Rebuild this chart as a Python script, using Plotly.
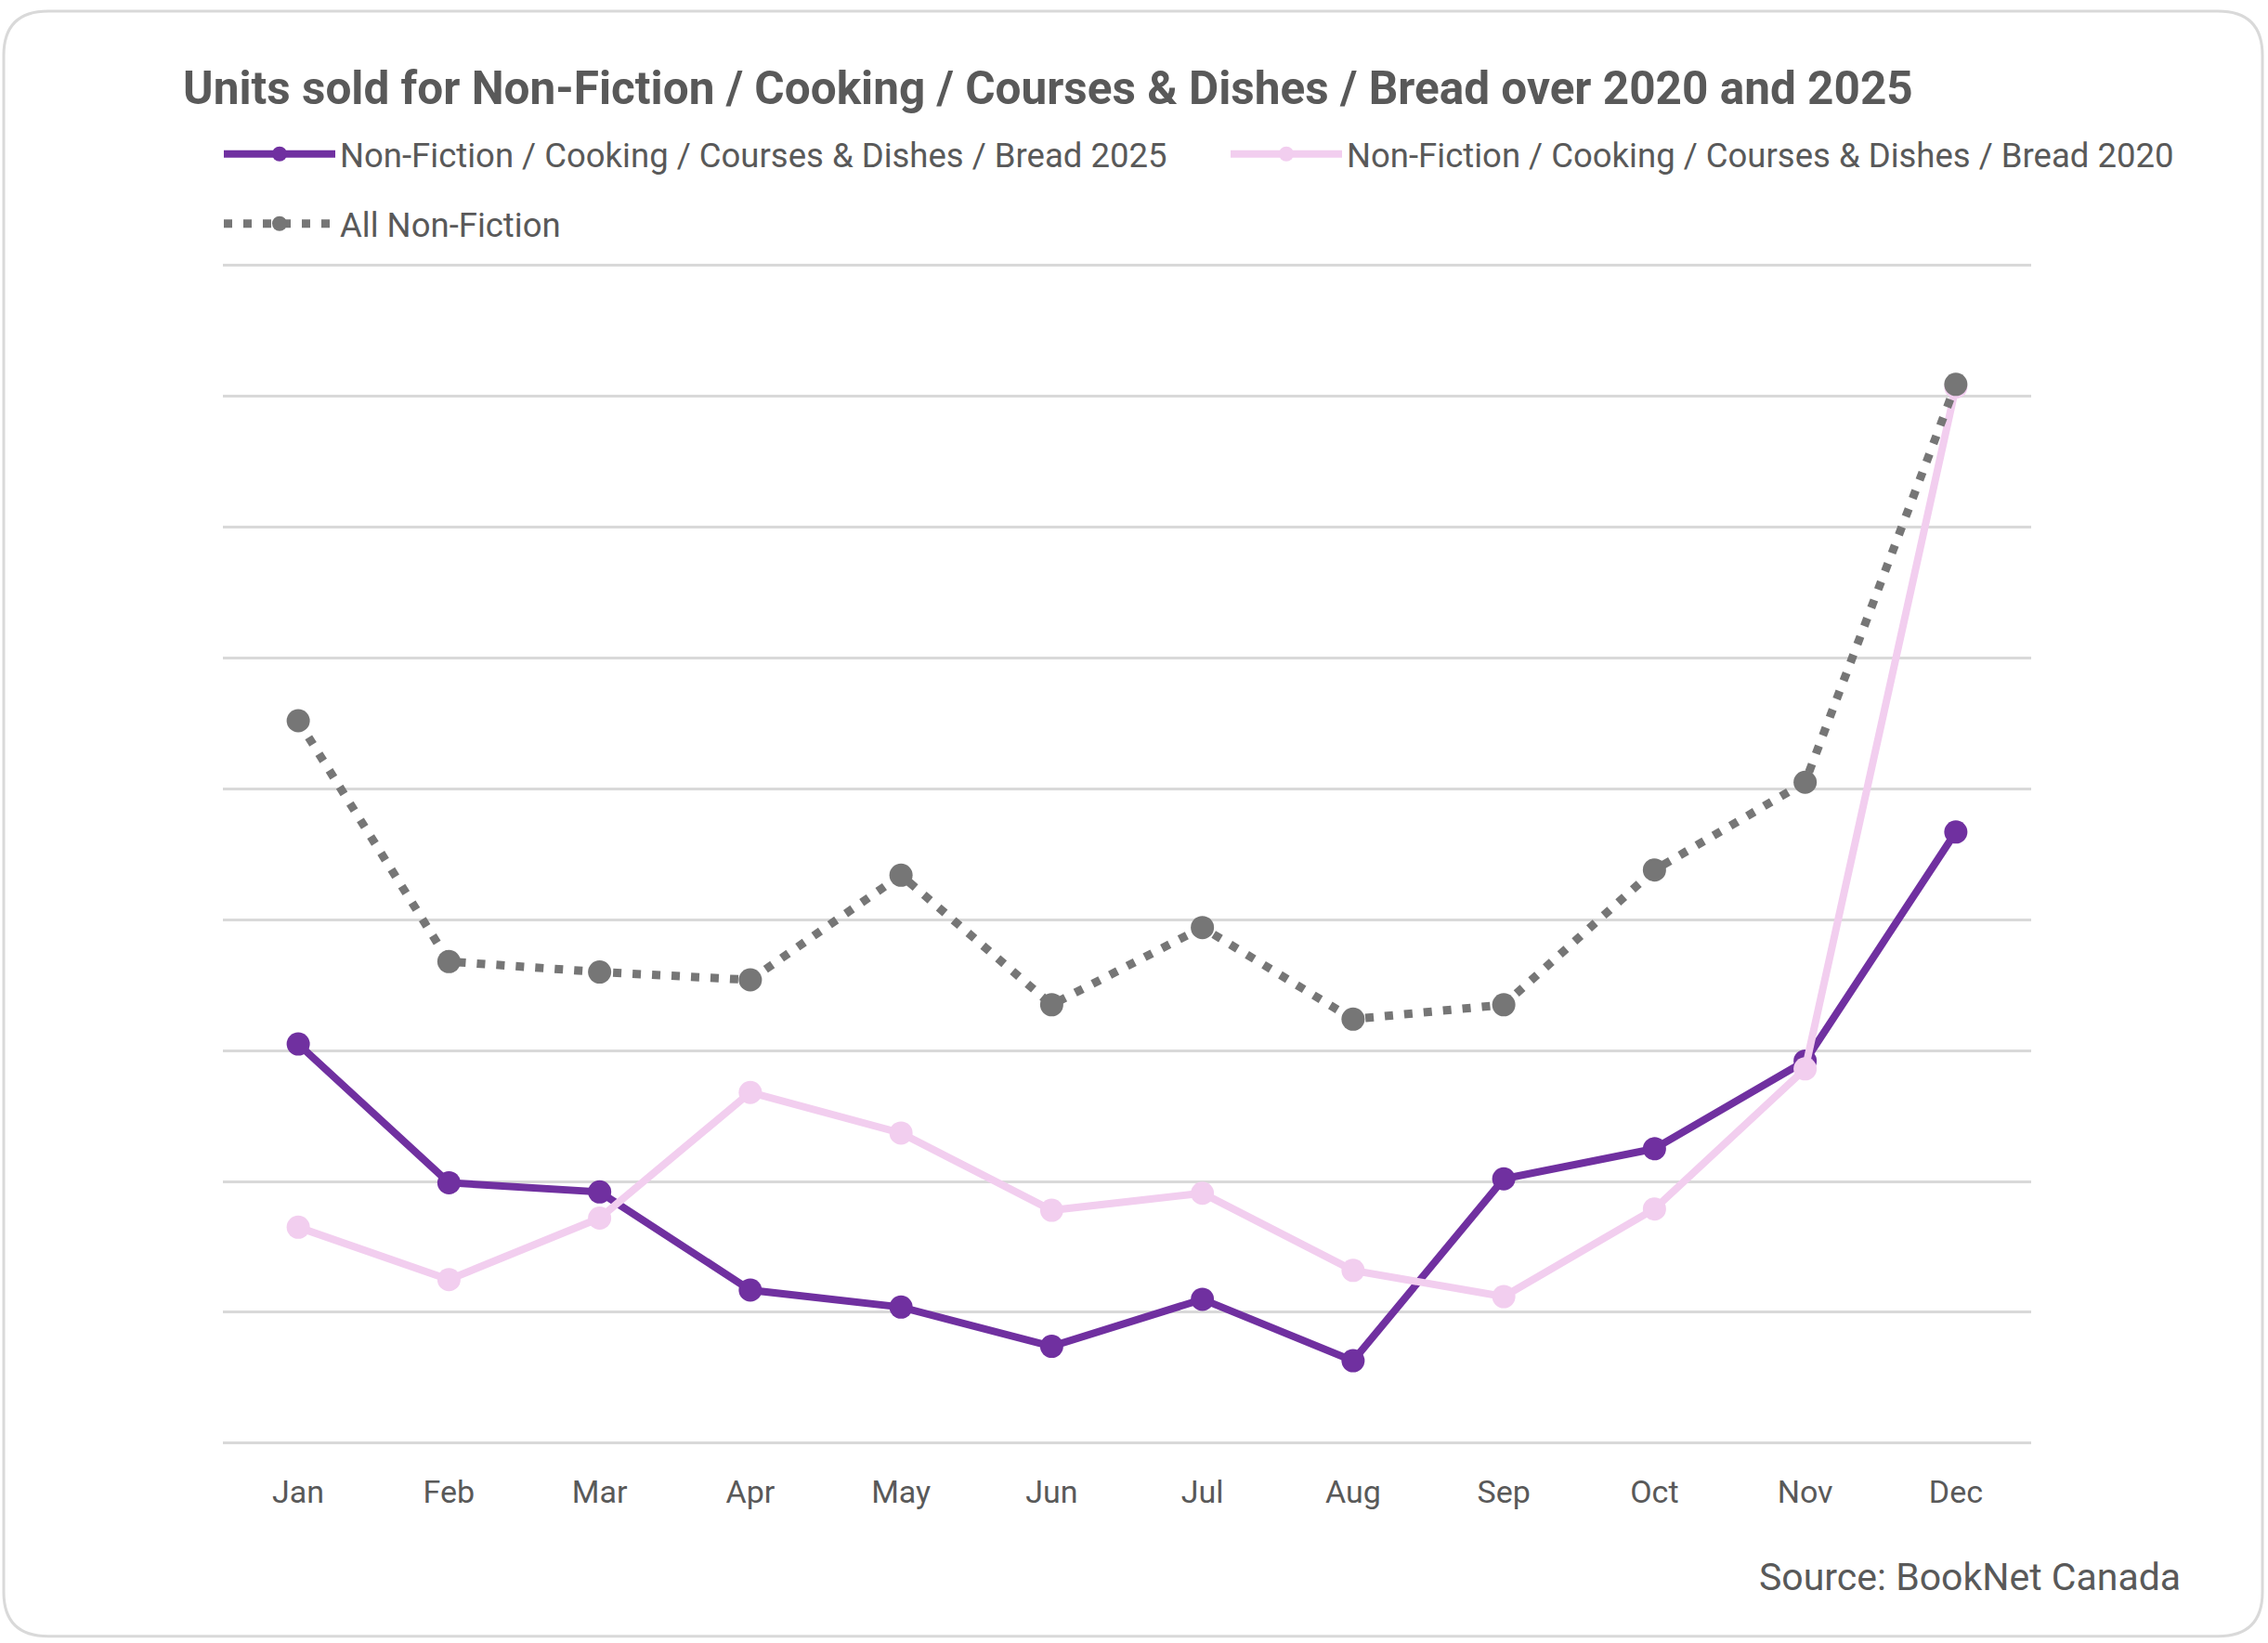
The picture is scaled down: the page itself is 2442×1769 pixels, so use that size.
import plotly.graph_objects as go

months = ["Jan", "Feb", "Mar", "Apr", "May", "Jun",
          "Jul", "Aug", "Sep", "Oct", "Nov", "Dec"]

bread_2025 = [3.05, 1.99, 1.92, 1.17, 1.04, 0.74, 1.10, 0.63, 2.02, 2.25, 2.92, 4.67]
bread_2020 = [1.65, 1.25, 1.72, 2.68, 2.37, 1.78, 1.91, 1.32, 1.12, 1.79, 2.86, 8.07]
all_nonfiction = [5.52, 3.68, 3.60, 3.54, 4.34, 3.35, 3.94, 3.24, 3.35, 4.38, 5.05, 8.09]

name_2025 = "Non-Fiction / Cooking / Courses & Dishes / Bread 2025"
name_2020 = "Non-Fiction / Cooking / Courses & Dishes / Bread 2020"
name_all = "All Non-Fiction"

W, H = 2442, 1769
L, R, T, B = 240, 255, 276, 213
PW, PH = W - L - R, H - T - B

FONT = "Roboto"
TXT = "#595959"


def px(x):
    return (x - L) / PW


def py(y):
    return (H - B - y) / PH


fig = go.Figure()

fig.add_trace(go.Scatter(
    x=months, y=bread_2025, name=name_2025, mode="lines+markers",
    line=dict(color="#7030A0", width=8),
    marker=dict(size=25, color="#7030A0"),
    legend="legend",
))
fig.add_trace(go.Scatter(
    x=months, y=bread_2020, name=name_2020, mode="lines+markers",
    line=dict(color="#F2CEEF", width=8),
    marker=dict(size=25, color="#F2CEEF"),
    legend="legend2",
))
fig.add_trace(go.Scatter(
    x=months, y=all_nonfiction, name=name_all, mode="lines+markers",
    line=dict(color="#767676", width=9, dash="9px,12px"),
    marker=dict(size=25, color="#767676"),
    legend="legend3",
))

# rounded outer frame
x0, x1, y0, y1, r = 4, 2436, 3, 1763, 48
frame = (
    f"M {px(x0 + r)},{py(y0)} L {px(x1 - r)},{py(y0)} "
    f"Q {px(x1)},{py(y0)} {px(x1)},{py(y0 + r)} "
    f"L {px(x1)},{py(y1 - r)} Q {px(x1)},{py(y1)} {px(x1 - r)},{py(y1)} "
    f"L {px(x0 + r)},{py(y1)} Q {px(x0)},{py(y1)} {px(x0)},{py(y1 - r)} "
    f"L {px(x0)},{py(y0 + r)} Q {px(x0)},{py(y0)} {px(x0 + r)},{py(y0)} Z"
)
fig.add_shape(type="path", path=frame, xref="paper", yref="paper",
              line=dict(color="#d9d9d9", width=3), layer="below")

legend_common = dict(
    orientation="h", xref="container", yref="container",
    xanchor="left", yanchor="middle", itemwidth=120,
    font=dict(family=FONT, size=36.5, color=TXT),
    bgcolor="rgba(0,0,0,0)", borderwidth=0,
)

fig.update_layout(
    width=W, height=H,
    margin=dict(l=L, r=R, t=T, b=B),
    paper_bgcolor="white", plot_bgcolor="white",
    font=dict(family=FONT, color=TXT),
    showlegend=True,
    title=dict(
        text="<b>Units sold for Non-Fiction / Cooking / Courses & Dishes / Bread over 2020 and 2025</b>",
        x=197 / W, xanchor="left", xref="container",
        y=1 - 95 / H, yanchor="middle", yref="container",
        font=dict(family=FONT, size=49.5, color=TXT),
    ),
    legend=dict(x=236 / W, y=1 - 166 / H, **legend_common),
    legend2=dict(x=1320 / W, y=1 - 166 / H, **legend_common),
    legend3=dict(x=236 / W, y=1 - 241 / H, **legend_common),
    xaxis=dict(
        type="category", range=[-0.5, 11.5], showgrid=False,
        showline=False, ticks="", ticklabelstandoff=27,
        tickfont=dict(family=FONT, size=34, color=TXT),
    ),
    yaxis=dict(
        range=[-0.015, 9.015], dtick=1, tick0=0, showticklabels=False,
        showgrid=True, gridcolor="#d9d9d9", gridwidth=3,
        zeroline=False, showline=False, ticks="",
    ),
    annotations=[dict(
        text="Source: BookNet Canada", xref="paper", yref="paper",
        x=px(2350), y=py(1699), xanchor="right", yanchor="middle",
        showarrow=False, font=dict(family=FONT, size=41, color=TXT),
    )],
)

fig.write_html("out.html", config={"displayModeBar": False},
               post_script="document.body.style.margin='0';")
